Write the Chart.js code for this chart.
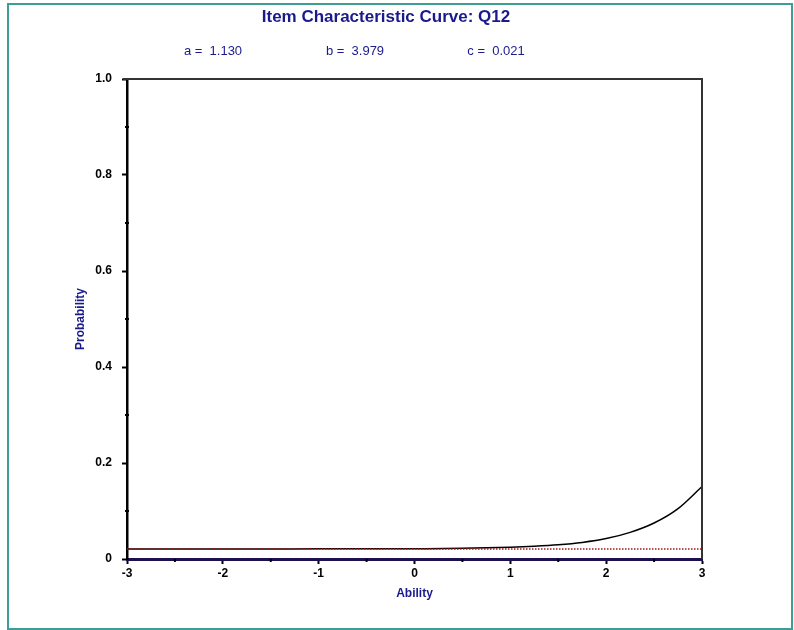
<!DOCTYPE html>
<html>
<head>
<meta charset="utf-8">
<script src="https://cdn.jsdelivr.net/npm/chart.js@4/dist/chart.umd.min.js"></script>
<style>
  html, body { margin: 0; padding: 0; background: #ffffff; }
  #wrap { width: 794px; height: 630px; position: relative; }
</style>
</head>
<body>
<div id="wrap"><canvas id="c" width="794" height="630"></canvas></div>
<script>
// ---- data ----
const chartTitle = "Item Characteristic Curve: Q12";
const paramLabels = ["a =  1.130", "b =  3.979", "c =  0.021"];
const abilityValues = [-3, -2.5, -2, -1.5, -1, -0.5, 0, 0.5, 1, 1.25, 1.5, 1.75, 2, 2.25, 2.5, 2.75, 3];
const probabilityValues = [0.021, 0.021, 0.021, 0.021, 0.0211, 0.0212, 0.0215, 0.0222, 0.0245, 0.0265, 0.0295, 0.0345, 0.0425, 0.0555, 0.075, 0.105, 0.151];
const guessingValue = 0.021;
const xTickValues = [-3, -2, -1, 0, 1, 2, 3];
const xMinorTicks = [-2.5, -1.5, -0.5, 0.5, 1.5, 2.5];
const yTickValues = [0, 0.2, 0.4, 0.6, 0.8, 1.0];
const yMinorTicks = [0.1, 0.3, 0.5, 0.7, 0.9];
const xAxisTitle = "Ability";
const yAxisTitle = "Probability";

const NAVY = "#1a1a8c";
const FONT = "'Liberation Sans', Arial, sans-serif";

const curveData = abilityValues.map((x, i) => ({ x: x, y: probabilityValues[i] }));
const guessData = [{ x: abilityValues[0], y: guessingValue }, { x: abilityValues[abilityValues.length - 1], y: guessingValue }];

const decorPlugin = {
  id: 'decor',
  beforeDraw(chart) {
    const ctx = chart.ctx;
    ctx.save();
    ctx.fillStyle = '#ffffff';
    ctx.fillRect(0, 0, chart.width, chart.height);
    ctx.strokeStyle = '#3f9d97';
    ctx.lineWidth = 2;
    ctx.strokeRect(8, 4, 784, 625);
    ctx.restore();
  },
  afterDraw(chart) {
    const ctx = chart.ctx;
    const a = chart.chartArea;
    const xs = chart.scales.x, ys = chart.scales.y;
    ctx.save();
    // title
    ctx.fillStyle = NAVY;
    ctx.textAlign = 'center';
    ctx.textBaseline = 'middle';
    ctx.font = "bold 17px " + FONT;
    ctx.fillText(chartTitle, 386, 17);
    ctx.font = "13px " + FONT;
    const px = [213, 355, 496];
    paramLabels.forEach((t, i) => ctx.fillText(t, px[i], 51));
    // frame top / right
    ctx.strokeStyle = '#333333';
    ctx.lineWidth = 2;
    ctx.beginPath();
    ctx.moveTo(a.left - 4, a.top);
    ctx.lineTo(a.right, a.top);
    ctx.lineTo(a.right, a.bottom);
    ctx.stroke();
    // minor ticks
    ctx.strokeStyle = '#000000';
    ctx.lineWidth = 2;
    yMinorTicks.forEach(v => {
      const y = ys.getPixelForValue(v);
      ctx.beginPath(); ctx.moveTo(a.left - 2, y); ctx.lineTo(a.left + 2, y); ctx.stroke();
    });
    xMinorTicks.forEach(v => {
      const x = xs.getPixelForValue(v);
      ctx.beginPath(); ctx.moveTo(x, a.bottom); ctx.lineTo(x, a.bottom + 3); ctx.stroke();
    });
    ctx.restore();
  }
};

new Chart(document.getElementById('c'), {
  type: 'line',
  data: {
    datasets: [
      {
        label: 'ICC',
        data: curveData,
        borderColor: '#000000',
        borderWidth: 1.5,
        pointRadius: 0,
        cubicInterpolationMode: 'monotone',
        fill: false,
        order: 2
      },
      {
        label: 'c',
        data: guessData,
        borderColor: '#a01818',
        borderWidth: 1.5,
        borderDash: [1.5, 1.5],
        pointRadius: 0,
        fill: false,
        order: 1
      }
    ]
  },
  options: {
    responsive: false,
    animation: false,
    devicePixelRatio: 1,
    layout: { padding: { left: 69, right: 92, top: 79, bottom: 25 } },
    plugins: {
      legend: { display: false },
      title: { display: false },
      tooltip: { enabled: false }
    },
    scales: {
      x: {
        type: 'linear',
        min: -3, max: 3,
        afterFit(scale) { scale.height = 46; },
        afterBuildTicks(scale) { scale.ticks = xTickValues.map(v => ({ value: v })); },
        ticks: {
          color: '#000000',
          padding: 2,
          font: { family: FONT, size: 12, weight: 'bold' },
          callback: (v) => String(v),
          maxRotation: 0
        },
        grid: { drawOnChartArea: false, drawTicks: true, tickLength: 5, tickWidth: 2, tickColor: '#000000' },
        border: { display: true, color: '#1e1050', width: 3 },
        title: {
          display: true, text: xAxisTitle, color: NAVY,
          font: { family: FONT, size: 12, weight: 'bold' },
          padding: { top: 4, bottom: 4 }
        }
      },
      y: {
        type: 'linear',
        min: 0, max: 1,
        afterFit(scale) { scale.width = 58; },
        afterBuildTicks(scale) { scale.ticks = yTickValues.map(v => ({ value: v })); },
        ticks: {
          color: '#000000',
          padding: 10,
          font: { family: FONT, size: 12, weight: 'bold' },
          callback: (v) => (v === 0 ? '0' : Number(v).toFixed(1))
        },
        grid: { drawOnChartArea: false, drawTicks: true, tickLength: 5, tickWidth: 2, tickColor: '#000000' },
        border: { display: true, color: '#000000', width: 2.5 },
        title: {
          display: true, text: yAxisTitle, color: NAVY,
          font: { family: FONT, size: 12, weight: 'bold' },
          padding: { top: 4, bottom: 4 }
        }
      }
    }
  },
  plugins: [decorPlugin]
});
</script>
</body>
</html>
